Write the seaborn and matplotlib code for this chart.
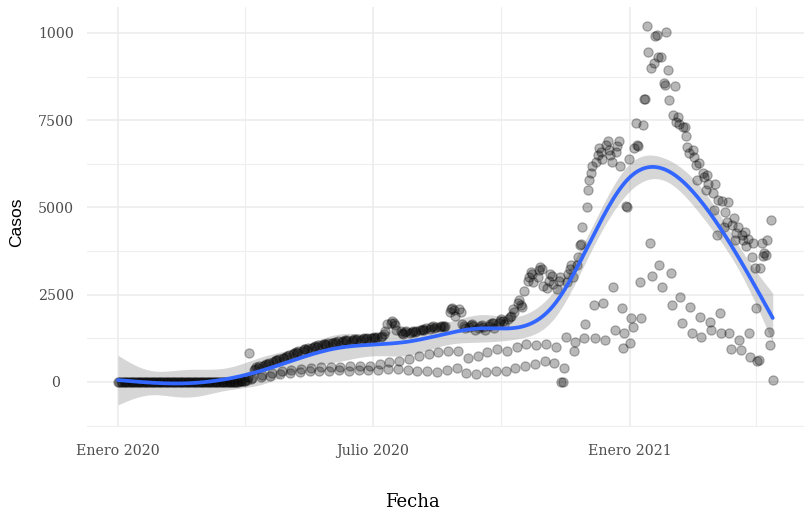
import numpy as np
import pandas as pd
import matplotlib
matplotlib.use("Agg")
import matplotlib.pyplot as plt
import matplotlib.dates as mdates
import seaborn as sns

# ---------------- data (daily cases) ----------------
fecha_inicio = "2020-01-01"

casos_2020_01 = [0, 0, 0, 0, 0, 0, 0, 0, 0, 0, 0, 0, 0, 0, 0, 0, 0, 0, 0, 0,
                 0, 0, 0, 0, 0, 0, 0, 0, 0, 0, 0]
casos_2020_02 = [0, 0, 0, 0, 0, 0, 0, 0, 0, 0, 0, 0, 0, 0, 0, 0, 0, 0, 0, 0,
                 0, 0, 0, 0, 0, 0, 0, 0, 0]
casos_2020_03 = [0, 0, 0, 0, 0, 0, 0, 0, 0, 0, 0, 0, 0, 0, 0, 0, 0, 0, 0, 0,
                 2, 3, 5, 5, 8, 10, 12, 15, 18, 20, 25]
casos_2020_04 = [20, 60, 150, 830, 80, 120, 350, 380, 420, 400, 450, 140, 200, 450, 480,
                 520, 500, 540, 180, 250, 560, 600, 620, 640, 660, 220, 300, 680, 700, 720]
casos_2020_05 = [740, 770, 260, 350, 800, 820, 860, 840, 880, 280, 380, 900, 930, 950, 920,
                 960, 300, 400, 980, 1000, 1020, 990, 1050, 310, 420, 1060, 1080, 1100, 1070,
                 1120, 320]
casos_2020_06 = [430, 1110, 1130, 1150, 1120, 1170, 330, 440, 1150, 1180, 1200, 1160, 1190,
                 320, 450, 1170, 1200, 1220, 1190, 1230, 340, 460, 1210, 1240, 1260, 1230,
                 1270, 350, 470, 1250]
casos_2020_07 = [1260, 1290, 1250, 1300, 350, 500, 1300, 1330, 1380, 1450, 1650, 380, 560,
                 1700, 1750, 1680, 1620, 1500, 360, 600, 1450, 1400, 1380, 1420, 1450, 330,
                 650, 1400, 1430, 1460, 1420]
casos_2020_08 = [1450, 300, 750, 1480, 1500, 1530, 1490, 1550, 320, 800, 1520, 1560, 1600,
                 1540, 1580, 280, 850, 1560, 1590, 1610, 1570, 1600, 350, 900, 2000, 2080,
                 2120, 2050, 1900, 400, 880]
casos_2020_09 = [2100, 2000, 1650, 1600, 1550, 260, 700, 1580, 1620, 1650, 1600, 1500, 240,
                 750, 1550, 1600, 1640, 1580, 1500, 280, 850, 1600, 1650, 1700, 1680, 1550,
                 300, 950, 1700, 1760]
casos_2020_10 = [1800, 1750, 1650, 320, 900, 1800, 1850, 1900, 2100, 2000, 400, 1000, 2250,
                 2350, 2200, 2150, 2600, 450, 1100, 2900, 3000, 3150, 3100, 2850, 500, 1050,
                 3000, 3200, 3300, 3250, 2750]
casos_2020_11 = [600, 1100, 2700, 2900, 3100, 3050, 2800, 550, 1000, 2650, 2900, 3000, 0, 10,
                 400, 1300, 2850, 3100, 3250, 3350, 3000, 900, 1150, 3350, 3580, 3930, 3950,
                 4440, 1250, 1650]
casos_2020_12 = [5000, 5500, 5800, 6000, 6200, 2200, 1260, 6300, 6500, 6700, 6600, 6400,
                 2260, 1200, 6800, 6900, 6650, 6500, 6300, 2720, 1490, 6600, 6750, 6900, 6200,
                 2120, 975, 1400, 5050, 5000, 6400]
casos_2021_01 = [1120, 1830, 1580, 6700, 7430, 6800, 6750, 2870, 1830, 7350, 8100, 8120,
                 10200, 9460, 3990, 9000, 3040, 9150, 9900, 9950, 9300, 3350, 9320, 2720,
                 8570, 8500, 10040, 8950, 8080, 3120, 2200]
casos_2021_02 = [7650, 8490, 7450, 7600, 7400, 2440, 1690, 7310, 7300, 7050, 6740, 6570, 2150,
                 1400, 6650, 6450, 6220, 5790, 6280, 1860, 1290, 6000, 5880, 5500, 5930, 5680,
                 1720, 1490]
casos_2021_03 = [5420, 4930, 5680, 4210, 5220, 1980, 1400, 5190, 4440, 4870, 4590, 5160, 1400,
                 950, 4500, 4700, 4070, 4270, 4450, 1200, 920, 4210, 4070, 4300, 3900, 4100,
                 1400, 720, 3580, 3990, 3270]
casos_2021_04 = [2120, 600, 620, 3270, 3990, 3600, 3700, 3640, 4070, 1430, 1060, 4640, 60]

marcas_fecha = ["2020-01-01", "2020-07-01", "2021-01-01"]
etiquetas_fecha = ["Enero 2020", "Julio 2020", "Enero 2021"]
marcas_fecha_menores = ["2020-04-01", "2020-10-01", "2021-04-01"]
marcas_casos = [0, 2500, 5000, 7500, 10000]
etiquetas_casos = ["0", "2500", "5000", "7500", "1000"]
marcas_casos_menores = [-1250, 1250, 3750, 6250, 8750]

casos = (casos_2020_01 + casos_2020_02 + casos_2020_03 + casos_2020_04 + casos_2020_05 +
         casos_2020_06 + casos_2020_07 + casos_2020_08 + casos_2020_09 + casos_2020_10 +
         casos_2020_11 + casos_2020_12 + casos_2021_01 + casos_2021_02 + casos_2021_03 +
         casos_2021_04)
df = pd.DataFrame({"fecha": pd.date_range(fecha_inicio, periods=len(casos), freq="D"),
                   "casos": casos})

# ---------------- smoother (cubic regression spline, 10 knots, + 95% CI) ----------------
xnum = mdates.date2num(df["fecha"])
x0, x1 = xnum.min(), xnum.max()
t = (xnum - x0) / (x1 - x0)
y = df["casos"].to_numpy(dtype=float)


def ns_basis(u, knots):
    K = len(knots)

    def d(k):
        return (np.clip(u - knots[k], 0, None) ** 3 - np.clip(u - knots[-1], 0, None) ** 3) / (
            knots[-1] - knots[k])

    cols = [np.ones_like(u), u]
    dlast = d(K - 2)
    for k in range(K - 2):
        cols.append(d(k) - dlast)
    return np.column_stack(cols)


knots = np.quantile(t, np.linspace(0, 1, 10))
X = ns_basis(t, knots)
XtX_inv = np.linalg.inv(X.T @ X)
beta = XtX_inv @ X.T @ y
resid = y - X @ beta
n, p = X.shape
sigma2 = resid @ resid / (n - p)
tg = np.linspace(0, 1, 240)
Xg = ns_basis(tg, knots)
fit = Xg @ beta
se = np.sqrt(np.einsum("ij,jk,ik->i", Xg, XtX_inv, Xg) * sigma2)
lo, hi = fit - 1.965 * se, fit + 1.965 * se
xg = x0 + tg * (x1 - x0)
smooth = pd.DataFrame({"fecha": mdates.num2date(xg), "ajuste": fit})

# ---------------- figure ----------------
sns.set_theme(style="white")
W, H = 807, 513
fig = plt.figure(figsize=(W / 100, H / 100), dpi=100)
ax = fig.add_axes([87.2 / W, 1 - 427.3 / H, 717 / W, 420.5 / H])

ax.fill_between(xg, lo, hi, color="#999999", alpha=0.4, linewidth=0, zorder=2)
sns.scatterplot(data=df, x="fecha", y="casos", ax=ax, color="black", alpha=0.28, s=44,
                edgecolor="black", linewidth=0.9, zorder=3, legend=False)
sns.lineplot(data=smooth, x="fecha", y="ajuste", ax=ax, color="#3366FF", linewidth=2.7,
             zorder=4, legend=False)

ax.set_xlim(x0 - 22.0, x1 + 22.5)
ax.set_ylim(-1300, 10750)

ax.set_xticks(mdates.date2num(pd.to_datetime(marcas_fecha)))
ax.set_xticklabels(etiquetas_fecha)
ax.set_xticks(mdates.date2num(pd.to_datetime(marcas_fecha_menores)), minor=True)
ax.set_yticks(marcas_casos)
ax.set_yticklabels(etiquetas_casos)
ax.set_yticks(marcas_casos_menores, minor=True)

for s in ax.spines.values():
    s.set_visible(False)
ax.grid(True, which="major", color="#EBEBEB", linewidth=1.1)
ax.grid(True, which="minor", color="#EEEEEE", linewidth=0.8)
ax.set_axisbelow(True)
ax.tick_params(which="both", length=0)
ax.tick_params(axis="x", pad=12, labelsize=10.2, labelcolor="#4D4D4D")
ax.tick_params(axis="y", pad=22.5, labelsize=10.2, labelcolor="#4D4D4D")
for lab in ax.get_yticklabels():
    lab.set_horizontalalignment("center")
    lab.set_fontfamily("DejaVu Serif")
for lab in ax.get_xticklabels():
    lab.set_fontfamily("DejaVu Serif")

ax.set_xlabel("Fecha", fontsize=13, family="DejaVu Serif", color="black")
ax.set_ylabel("Casos", fontsize=12.5, family="Liberation Sans", color="black")
ax.xaxis.set_label_coords((412 - 87.2) / 717, -(502 - 427.3) / 420.5)
ax.xaxis.label.set_verticalalignment("center")
ax.yaxis.set_label_coords(-(87.2 - 17) / 717, (427.3 - 222) / 420.5)
ax.yaxis.label.set_verticalalignment("center")

fig.savefig("out.png", dpi=100)
